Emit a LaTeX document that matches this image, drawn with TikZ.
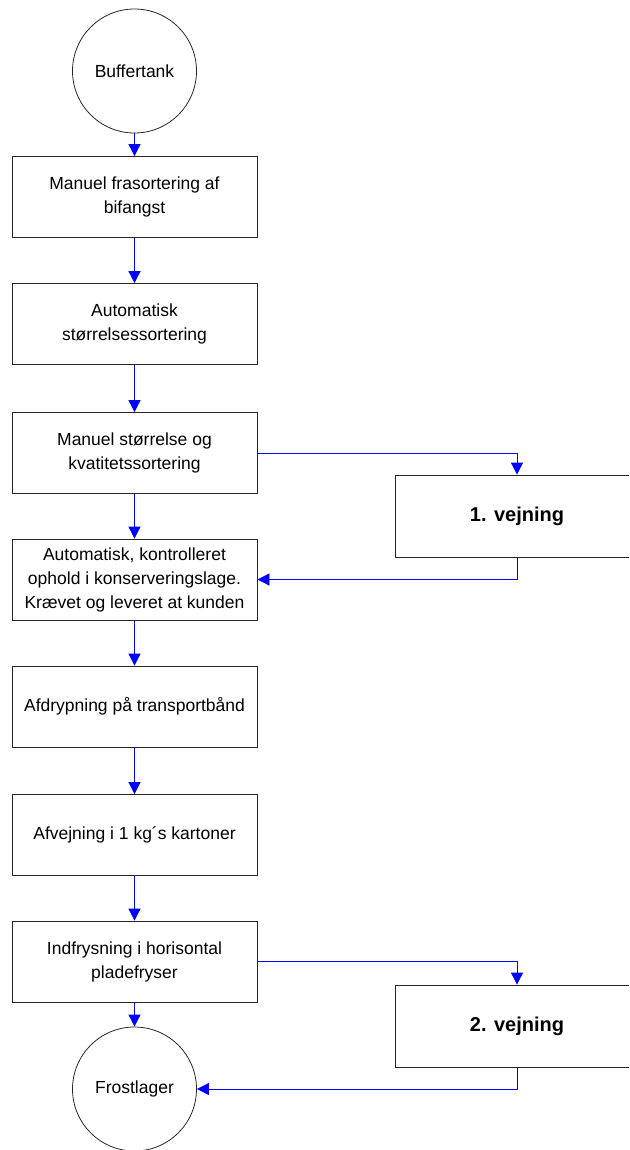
\documentclass[tikz,border=0pt]{standalone}
\usepackage{fontspec}
\setmainfont{Liberation Sans}
\usetikzlibrary{arrows.meta}
\begin{document}
\begin{tikzpicture}[x=1pt,y=-1pt,
  every node/.style={font=\fontsize{17.5}{24}\selectfont, align=center},
  procbox/.style={draw=black!85, line width=0.8pt, rectangle, minimum width=245pt, minimum height=81pt, inner sep=0pt},
  weighbox/.style={draw=black!85, line width=0.8pt, rectangle, minimum width=244pt, minimum height=82pt, inner sep=0pt, font=\fontsize{20}{24}\selectfont\bfseries},
  term/.style={draw=black!85, line width=0.8pt, circle, minimum size=124pt, inner sep=0pt},
  flow/.style={draw=blue, line width=0.8pt, -{Triangle[width=12pt,length=12pt]}}
]
\useasboundingbox (0,0) rectangle (629,1150);
\clip (0,0) rectangle (629,1150);
\node[term] (buf) at (134.5,71) {Buffertank};
\node[procbox] (b1) at (134.5,197) {Manuel frasortering af\\bifangst};
\node[procbox] (b2) at (134.5,324) {Automatisk\\størrelsessortering};
\node[procbox] (b3) at (134.5,453) {Manuel størrelse og\\kvatitetssortering};
\node[procbox] (b4) at (134.5,579.5) {Automatisk, kontrolleret\\ophold i konserveringslage.\\Krævet og leveret at kunden};
\node[procbox] (b5) at (134.5,706.5) {Afdrypning på transportbånd};
\node[procbox] (b6) at (134.5,835) {Afvejning i 1 kg´s kartoner};
\node[procbox] (b7) at (134.5,961.5) {Indfrysning i horisontal\\pladefryser};
\node[term] (frost) at (134.5,1089) {Frostlager};
\node[weighbox] (v1) at (517,516) {1. vejning};
\node[weighbox] (v2) at (517,1026) {2. vejning};

\draw[flow] (buf) -- (b1);
\draw[flow] (b1) -- (b2);
\draw[flow] (b2) -- (b3);
\draw[flow] (b3) -- (b4);
\draw[flow] (b4) -- (b5);
\draw[flow] (b5) -- (b6);
\draw[flow] (b6) -- (b7);
\draw[flow] (b7) -- (frost);
\draw[flow] (b3.east) -| (v1.north);
\draw[flow] (v1.south) |- (b4.east);
\draw[flow] (b7.east) -| (v2.north);
\draw[flow] (v2.south) |- (frost.east);
\end{tikzpicture}
\end{document}
